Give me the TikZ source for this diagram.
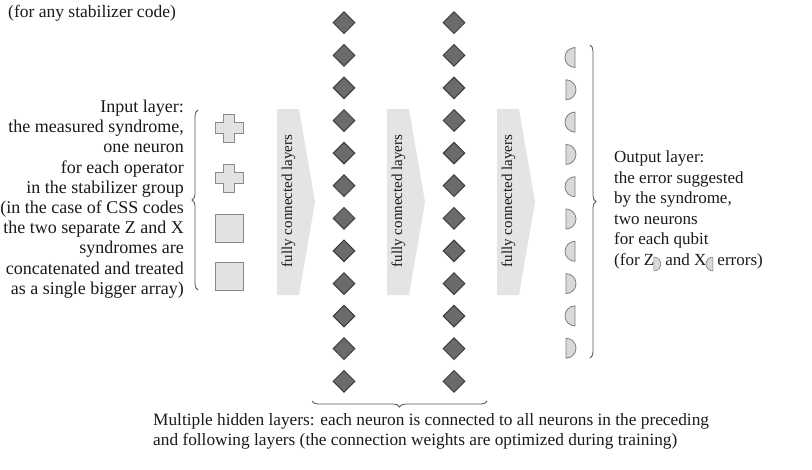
\documentclass[tikz,border=0pt]{standalone}
\usepackage{fontspec}
\setmainfont{Liberation Serif}
\usetikzlibrary{shapes.geometric,decorations.pathreplacing}
\definecolor{inpfill}{HTML}{E2E2E2}
\definecolor{inpdraw}{HTML}{8A8A8A}
\definecolor{chevfill}{HTML}{E4E4E4}
\definecolor{hidfill}{HTML}{6B6B6B}
\definecolor{hiddraw}{HTML}{3C3C3C}
\definecolor{outfill}{HTML}{D9D9D9}
\definecolor{outdraw}{HTML}{7F7F7F}
\definecolor{bracecol}{HTML}{555555}
\definecolor{txt}{HTML}{1A1A1A}
\newcommand{\zsub}{\hspace{-0.8pt}\tikz[baseline=0pt,x=1pt,y=1pt]\filldraw[fill=outfill,draw=outdraw,line width=0.6pt] (0,-6) -- (0,8) arc[start angle=90,end angle=-90,radius=7] -- cycle;}
\newcommand{\xsub}{\hspace{-0.8pt}\tikz[baseline=0pt,x=1pt,y=1pt]\filldraw[fill=outfill,draw=outdraw,line width=0.6pt] (7,-6) -- (7,8) arc[start angle=90,end angle=270,radius=7] -- cycle;}
\begin{document}
\begin{tikzpicture}[x=1pt,y=-1pt,
  txtstyle/.style={text=txt, inner sep=0pt},
  hidden/.style={diamond, fill=hidfill, draw=hiddraw, line width=1pt, minimum width=22pt, minimum height=22pt, inner sep=0pt},
  inbox/.style={rectangle, fill=inpfill, draw=inpdraw, line width=0.8pt, minimum size=28pt, inner sep=0pt},
  chev/.style={fill=chevfill},
  chevtext/.style={rotate=90, font=\fontsize{15}{17}\selectfont, text=txt, inner sep=0pt},
  halfd/.style={fill=outfill, draw=outdraw, line width=0.8pt},
  bracestyle/.style={draw=bracecol, line width=0.8pt, decorate, decoration={brace, amplitude=6pt}}
]
\fill[white] (0,0) rectangle (812,469);
\useasboundingbox (0,0) rectangle (812,469);

% top note
\node[txtstyle, font=\fontsize{17.5}{20}\selectfont, anchor=base west] (note) at (8,17.5) {(for any stabilizer code)};

% input text
\node[txtstyle, font=\fontsize{18}{20.2}\selectfont, align=right, anchor=east] (intext) at (184,199) {Input layer:\\the measured syndrome,\\one neuron\\for each operator\\in the stabilizer group\\(in the case of CSS codes\\the two separate Z and X\\syndromes are\\concatenated and treated\\as a single bigger array)};

% left brace
\coordinate (lb1) at (198,290);
\coordinate (lb2) at (198,110);
\draw[bracestyle] (lb1) -- (lb2);

% input neurons: crosses
\foreach \i/\y in {1/128,2/178}{
  \filldraw[fill=inpfill, draw=inpdraw, line width=0.8pt]
    (223.2,\y-14) -- (234.8,\y-14) -- (234.8,\y-5.8) -- (243,\y-5.8) -- (243,\y+5.8) -- (234.8,\y+5.8)
    -- (234.8,\y+14) -- (223.2,\y+14) -- (223.2,\y+5.8) -- (215,\y+5.8) -- (215,\y-5.8) -- (223.2,\y-5.8) -- cycle;
  \coordinate (cross\i) at (229,\y);
}
\node[inbox] (sq1) at (229,228) {};
\node[inbox] (sq2) at (229,276) {};

% chevrons
\foreach \k/\x in {1/277,2/387,3/497}{
  \fill[chev] (\x,109) -- (\x+22,109) -- (\x+38,202) -- (\x+22,295) -- (\x,295) -- cycle;
  \node[chevtext] (fc\k) at (\x+11.5,201) {fully connected layers};
}

% hidden layers
\foreach \j in {0,...,11}{
  \node[hidden] (ha\j) at (344,22.7+\j*32.6) {};
  \node[hidden] (hb\j) at (454,22.7+\j*32.6) {};
}

% output neurons
\foreach \j in {0,2,4,6,8}{
  \filldraw[halfd] (575,47.5+\j*32.3) arc[start angle=270, end angle=90, radius=10] -- cycle;
}
\foreach \j in {1,3,5,7,9}{
  \filldraw[halfd] (566,47.5+\j*32.3) arc[start angle=-90, end angle=90, radius=10] -- cycle;
}

% right brace
\coordinate (rb1) at (590,45);
\coordinate (rb2) at (590,358);
\draw[bracestyle] (rb1) -- (rb2);

% output text
\node[txtstyle, font=\fontsize{17}{20.5}\selectfont, align=left, anchor=west] (outtext) at (614,211) {Output layer:\\the error suggested\\by the syndrome,\\two neurons\\for each qubit\\(for Z\zsub{} and X\xsub{} errors)};

% bottom brace
\coordinate (bb1) at (487,401);
\coordinate (bb2) at (312,401);
\draw[bracestyle] (bb1) -- (bb2);

% bottom text
\node[txtstyle, font=\fontsize{17.3}{19.5}\selectfont, align=left, anchor=base west] (bottomtext) at (153,445) {Multiple hidden layers: each neuron is connected to all neurons in the preceding\\and following layers (the connection weights are optimized during training)};
\end{tikzpicture}
\end{document}
